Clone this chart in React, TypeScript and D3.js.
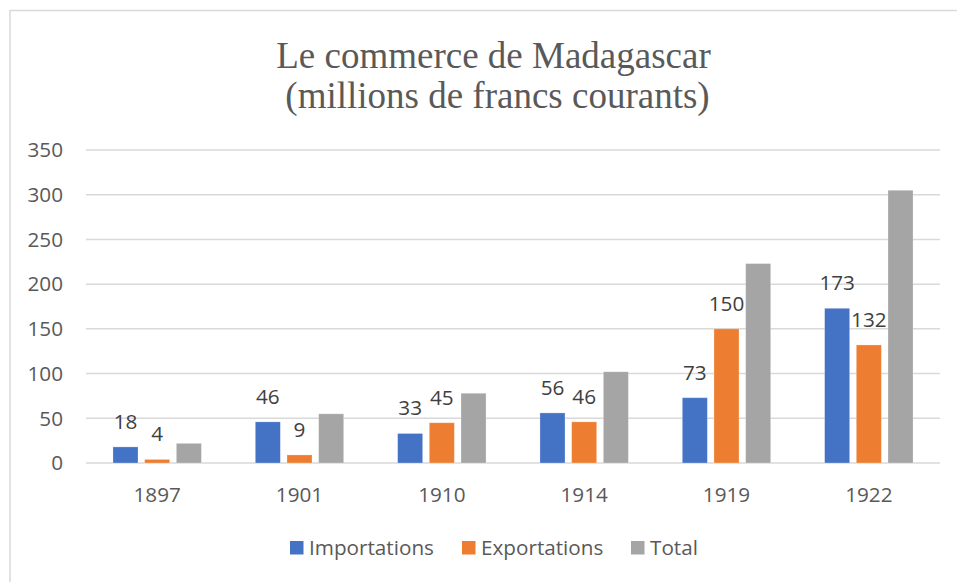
import React from "react";
import * as d3 from "d3";

const categories = ["1897", "1901", "1910", "1914", "1919", "1922"];
const seriesNames = ["Importations", "Exportations", "Total"];
const importations = [18, 46, 33, 56, 73, 173];
const exportations = [4, 9, 45, 46, 150, 132];
const total = [22, 55, 78, 102, 223, 305];
const yTicks = [0, 50, 100, 150, 200, 250, 300, 350];
const colors = ["#4472C4", "#ED7D31", "#A5A5A5"];
const titleLines = ["Le commerce de Madagascar", "(millions de francs courants)"];

const W = 957;
const H = 582;
const FONT = "'Open Sans', sans-serif";
const FS = 20.7;

export default function App() {
  const x0 = d3.scaleBand<string>().domain(categories).range([86, 940]).padding(0);
  const c = x0.bandwidth() / 2;
  const x1 = d3
    .scaleBand<string>()
    .domain(seriesNames)
    .range([c - 44.2, c + 44.2])
    .paddingInner(0.21)
    .paddingOuter(0);
  const y = d3.scaleLinear().domain([0, 350]).range([463, 150]);
  const values = [importations, exportations, total];

  return (
    <svg
      width={W}
      height={H}
      style={{ position: "absolute", left: 0, top: 0, background: "#fff" }}
      fontFamily={FONT}
    >
      <rect x={0} y={0} width={W} height={H} fill="#fff" />
      {/* frame */}
      <path d={`M10,${H + 5} V10.5 H${W + 5}`} fill="none" stroke="#d9d9d9" strokeWidth={1.5} />
      {/* title */}
      <text
        x={493.5}
        y={68}
        textAnchor="middle"
        fontFamily="'Liberation Serif', 'Times New Roman', serif"
        fontSize={37}
        fill="#595959"
      >
        {titleLines[0]}
      </text>
      <text
        x={497.5}
        y={108}
        textAnchor="middle"
        fontFamily="'Liberation Serif', 'Times New Roman', serif"
        fontSize={37}
        fill="#595959"
      >
        {titleLines[1]}
      </text>
      {/* gridlines + y tick labels */}
      {yTicks.map((t) => (
        <g key={t}>
          <line x1={86} x2={940} y1={y(t)} y2={y(t)} stroke="#d9d9d9" strokeWidth={1.5} />
          <text x={63} y={y(t) + 7.3} textAnchor="end" fontSize={FS} fill="#595959">
            {t}
          </text>
        </g>
      ))}
      {/* bars */}
      {categories.map((cat, i) => (
        <g key={cat} transform={`translate(${x0(cat)},0)`}>
          {seriesNames.map((s, k) => {
            const v = values[k][i];
            const bx = x1(s) as number;
            return (
              <g key={s}>
                <rect
                  x={bx}
                  y={y(v)}
                  width={x1.bandwidth()}
                  height={y(0) - y(v)}
                  fill={colors[k]}
                  stroke="#ffffff"
                  strokeOpacity={0.35}
                  strokeWidth={0.75}
                />
                {k < 2 && (
                  <text
                    x={bx + x1.bandwidth() / 2}
                    y={y(v) - 18}
                    textAnchor="middle"
                    fontSize={FS}
                    fill="#404040"
                  >
                    {v}
                  </text>
                )}
              </g>
            );
          })}
          <text x={c} y={502} textAnchor="middle" fontSize={FS} fill="#595959">
            {cat}
          </text>
        </g>
      ))}
      {/* legend */}
      {seriesNames.map((s, k) => {
        const lx = [290, 462, 631][k];
        return (
          <g key={s}>
            <rect x={lx} y={541} width={13.5} height={13.5} fill={colors[k]} />
            <text x={lx + 19} y={555} fontSize={FS} fill="#595959">
              {s}
            </text>
          </g>
        );
      })}
    </svg>
  );
}
